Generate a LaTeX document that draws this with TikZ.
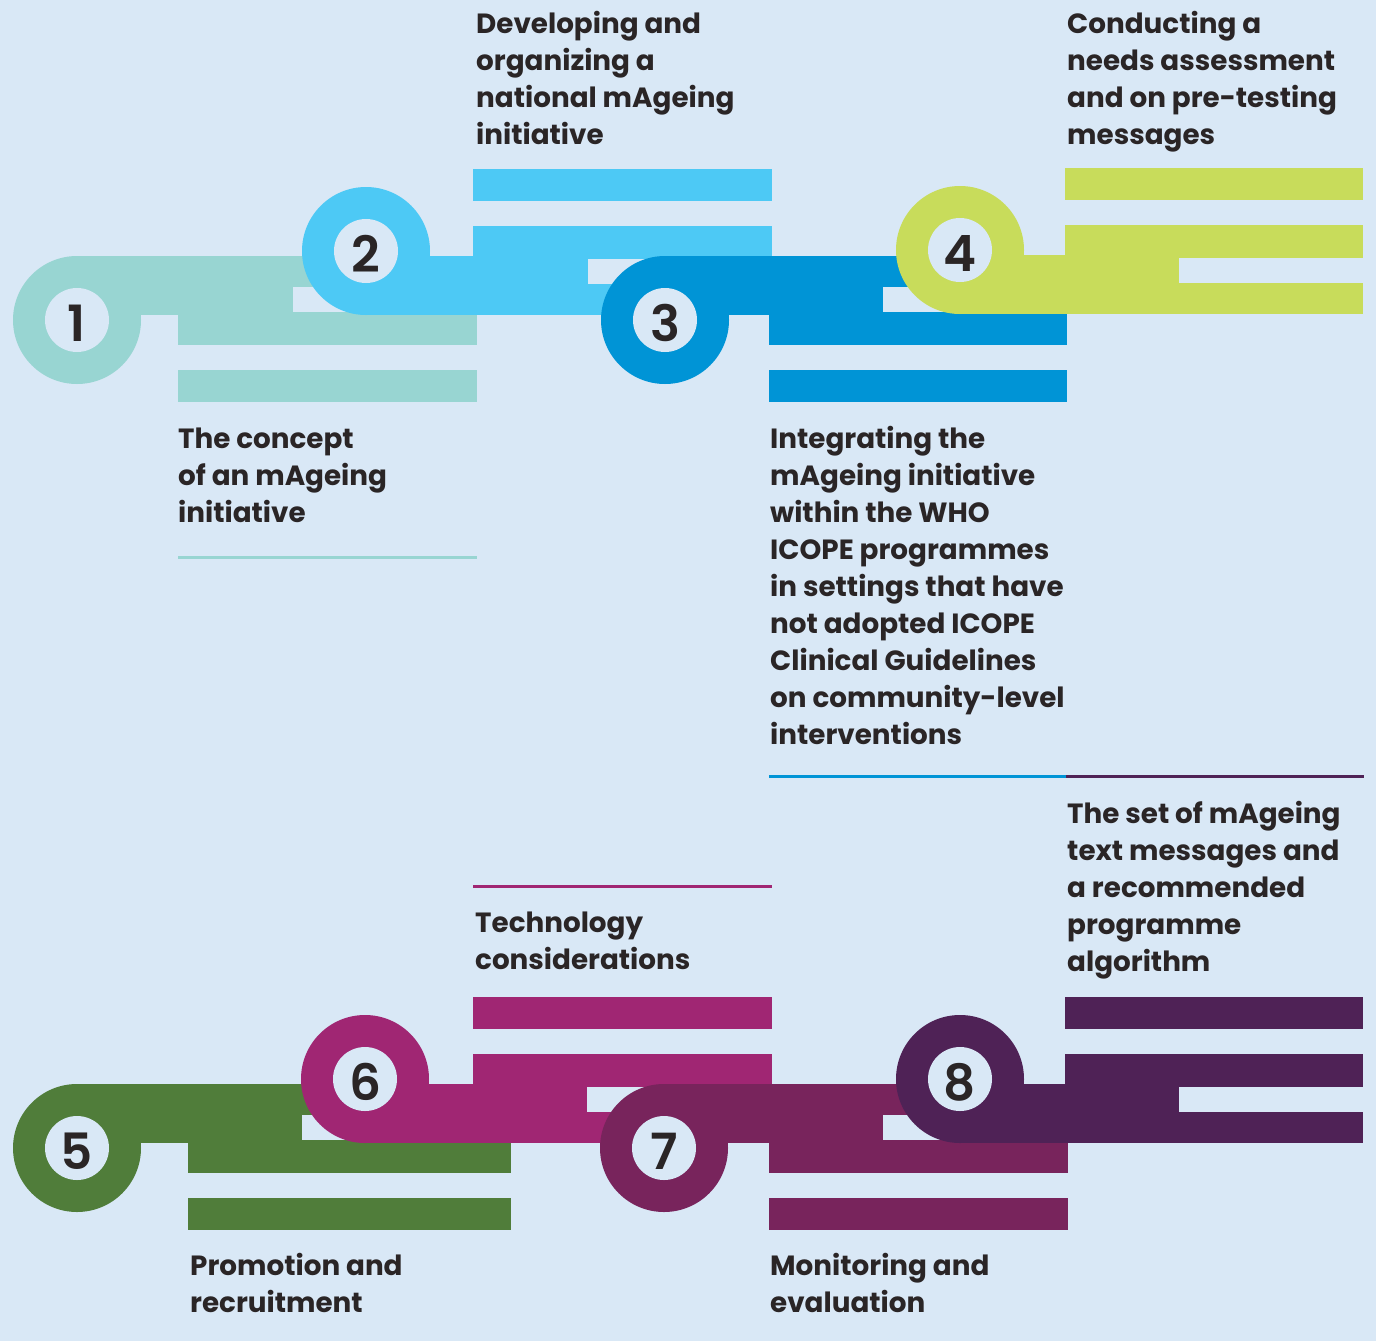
\documentclass[tikz,border=0pt]{standalone}
\usepackage{fontspec}
\setmainfont{Poppins}[UprightFont=* Bold]
\newfontfamily\digitfont{Poppins}[UprightFont=* SemiBold]
\usetikzlibrary{positioning}
\definecolor{bgc}{HTML}{D9E8F6}
\definecolor{ink}{HTML}{2A2526}
\definecolor{colA}{HTML}{98D5D2}
\definecolor{colB}{HTML}{4DC9F5}
\definecolor{colC}{HTML}{0094D6}
\definecolor{colD}{HTML}{C8DC5B}
\definecolor{colE}{HTML}{507D3A}
\definecolor{colF}{HTML}{A02673}
\definecolor{colG}{HTML}{78245C}
\definecolor{colH}{HTML}{4F2256}
\tikzset{
  lbl/.style={font=\fontsize{27.8}{37}\selectfont, align=left, inner sep=0pt, text=ink, anchor=base west},
  num/.style={font=\digitfont\fontsize{50}{50}\selectfont, inner sep=0pt, text=ink},
  rule/.style={line width=3pt}
}
\begin{document}
\begin{tikzpicture}[x=1pt, y=-1pt, line join=round]
	\def\R{64pt}
	\def\r{32pt}
	\fill[bgc] (0,0) rectangle (1376,1341);
	\useasboundingbox (0,0) rectangle (1376,1341);
	% ring, connector and three bars of each step
	\foreach \cx/\cy/\col/\f/\a/\s/\e/\n in {
		77/320/colA/-1/101/216/400/1, 366/251/colB/1/107/222/406/2,
		665/320/colC/-1/104/218/402/3, 960/250/colD/1/105/219/403/4,
		77/1148/colE/-1/111/225/434/5, 365/1079/colF/1/108/222/407/6,
		664/1148/colG/-1/105/219/404/7, 960/1079/colH/1/105/219/403/8}{
		\begin{scope}[shift={(\cx,\cy)}, yscale=\f]
			\fill[\col] (0,0) circle[radius=\R];
			\fill[\col] (0,5) rectangle (\a,64);
			\fill[\col] (\a,-25) rectangle (\s,64);
			\fill[\col] (\a,-25) rectangle (\e,8);
			\fill[\col] (\a,33) rectangle (\e,64);
			\fill[\col] (\a,-82) rectangle (\e,-50);
			\fill[bgc] (0,0) circle[radius=\r];
		\end{scope}
		\node[num] (n\n) at (\cx,\cy+3) {\n};
	}
	% texts (placed at the baseline of their last line)
	\node[lbl] (t1) at (178,522) {The concept\\of an mAgeing\\initiative};
	\node[lbl] (t2) at (476,144) {Developing and\\organizing a\\national mAgeing\\initiative};
	\node[lbl] (t3) at (770,744) {Integrating the\\mAgeing initiative\\within the WHO\\ICOPE programmes\\in settings that have\\not adopted ICOPE\\Clinical Guidelines\\on community-level\\interventions};
	\node[lbl] (t4) at (1067,144) {Conducting a\\needs assessment\\and on pre-testing\\messages};
	\node[lbl] (t5) at (190,1312) {Promotion and\\recruitment};
	\node[lbl] (t6) at (475,969) {Technology\\considerations};
	\node[lbl] (t7) at (770,1312) {Monitoring and\\evaluation};
	\node[lbl] (t8) at (1067,971) {The set of mAgeing\\text messages and\\a recommended\\programme\\algorithm};
	% rules
	\path
	(178,557) coordinate (u1a) (477,557) coordinate (u1b)
	(769,776) coordinate (u3a) (1066,776) coordinate (u3b)
	(1364,776) coordinate (u8b)
	(473,886) coordinate (u6a) (772,886) coordinate (u6b)
	;
	\draw[rule, colA] (u1a)--(u1b);
	\draw[rule, colC] (u3a)--(u3b);
	\draw[rule, colH] (u3b)--(u8b);
	\draw[rule, colF] (u6a)--(u6b);
\end{tikzpicture}
\end{document}
